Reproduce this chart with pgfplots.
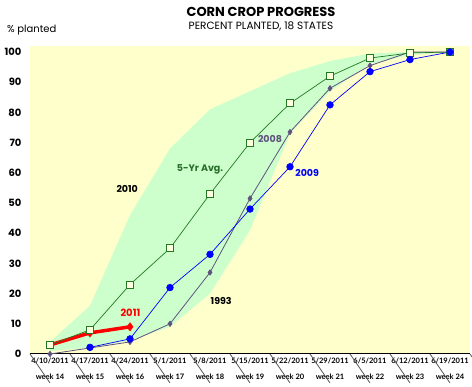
\documentclass[border=0pt]{standalone}
\usepackage{pgfplots}
\pgfplotsset{compat=1.18}
\usepgfplotslibrary{fillbetween}
\usepackage{fontspec}
\setmainfont{Poppins}
\newfontfamily\tickfont{Lato}
\definecolor{bgyellow}{RGB}{255,255,204}
\definecolor{bandgreen}{RGB}{204,255,204}
\definecolor{avggreen}{RGB}{34,120,34}
\definecolor{avglabel}{RGB}{40,110,40}
\definecolor{purp}{RGB}{96,82,128}
\definecolor{myblue}{RGB}{0,0,255}
\definecolor{myred}{RGB}{255,0,0}
\definecolor{sqfill}{RGB}{255,255,224}
\begin{document}
\begin{tikzpicture}
\begin{axis}[
  at={(30pt,33pt)}, anchor=south west,
  scale only axis, width=440pt, height=308pt,
  xmin=-0.5, xmax=10.5, ymin=0, ymax=102,
  axis background/.style={fill=bgyellow},
  axis x line*=bottom, axis y line*=left,
  y axis line style={draw=none},
  x axis line style={black, line width=1pt},
  major tick length=0pt,
  ytick={0,10,...,100},
  yticklabel style={font=\fontsize{10}{11}\selectfont\bfseries, xshift=-5pt},
  /pgf/number format/assume math mode=true,
  xtick={0,...,10},
  xticklabels={{4/10/2011\\week 14},{4/17/2011\\week 15},{4/24/2011\\week 16},{5/1/2011\\week 17},{5/8/2011\\week 18},{5/15/2011\\week 19},{5/22/2011\\week 20},{5/29/2011\\week 21},{6/5/2011\\week 22},{6/12/2011\\week 23},{6/19/2011\\week 24}},
  xticklabel style={font=\tickfont\fontsize{7.5}{16}\selectfont\bfseries, align=center, yshift=-0.5pt},
  clip=false,
]
% range band (2010 upper, 1993 lower)
\addplot[name path=upper, draw=none, forget plot] coordinates {
(0,4)(1,16)(2,46)(3,68)(4,81)(5,87)(6,93)(7,97)(8,99.5)(9,100)(10,100)};
\addplot[name path=lower, draw=none, forget plot] coordinates {
(0,1)(1,2)(2,4.5)(3,9)(4,20)(5,41)(6,73)(7,87)(8,96)(9,99)(10,100)};
\addplot[bandgreen, forget plot] fill between[of=upper and lower];
% 2011
\addplot[myred, line width=3.5pt] coordinates {(0,3)(1,7)(2,9)};
\addplot[myred, only marks, mark=diamond*, mark size=4.2pt] coordinates {(1,7)(2,9)};
% 2008
\addplot[purp, line width=0.8pt, mark=diamond*, mark size=2.6pt] coordinates {
(0,0)(1,2)(2,4)(3,10)(4,27)(5,51.5)(6,73.5)(7,88)(8,95.5)(9,100)(10,100)};
% 5-yr avg
\addplot[avggreen, line width=0.7pt, mark=square*, mark size=3.5pt, mark options={fill=sqfill, draw=avggreen, line width=0.8pt}] coordinates {
(0,3)(1,8)(2,23)(3,35)(4,53)(5,70)(6,83)(7,92)(8,98)(9,99.7)(10,100)};
% 2009
\addplot[myblue, line width=0.7pt, mark=*, mark size=3.3pt] coordinates {
(1,2.2)(2,5)(3,22)(4,33)(5,48)(6,62)(7,82.5)(8,93.5)(9,97.5)(10,100)};
% table grid
\pgfplotsinvokeforeach{0,...,11}{\draw[gray!70!black, line width=0.8pt] (axis cs:{#1-0.5},0) -- ++(0,-29pt);}
% series labels
\node[font=\fontsize{9.5}{10}\selectfont\bfseries, black] at (axis cs:1.93,54.7) {2010};
\node[font=\fontsize{9.5}{10}\selectfont\bfseries, avglabel] at (axis cs:3.75,61.2) {5-Yr Avg.};
\node[font=\fontsize{9.5}{10}\selectfont\bfseries, purp] at (axis cs:5.5,71.2) {2008};
\node[font=\fontsize{9.5}{10}\selectfont\bfseries, myblue] at (axis cs:6.43,60) {2009};
\node[font=\fontsize{9.5}{10}\selectfont\bfseries, black] at (axis cs:4.28,17.4) {1993};
\node[font=\fontsize{10}{11}\selectfont\bfseries, myred] at (axis cs:2.01,13.7) {2011};
\end{axis}
\node[font=\fontsize{13}{14}\selectfont\bfseries] at (261pt,375pt) {CORN CROP PROGRESS};
\node[font=\fontsize{10.5}{11}\selectfont] at (261pt,361pt) {PERCENT PLANTED, 18 STATES};
\node[font=\fontsize{10}{11}\selectfont, anchor=west, inner sep=0pt] at (7pt,357pt) {\% planted};
\pgfresetboundingbox
\path[use as bounding box] (0pt,0pt) rectangle (472pt,387pt);
\end{tikzpicture}
\end{document}
